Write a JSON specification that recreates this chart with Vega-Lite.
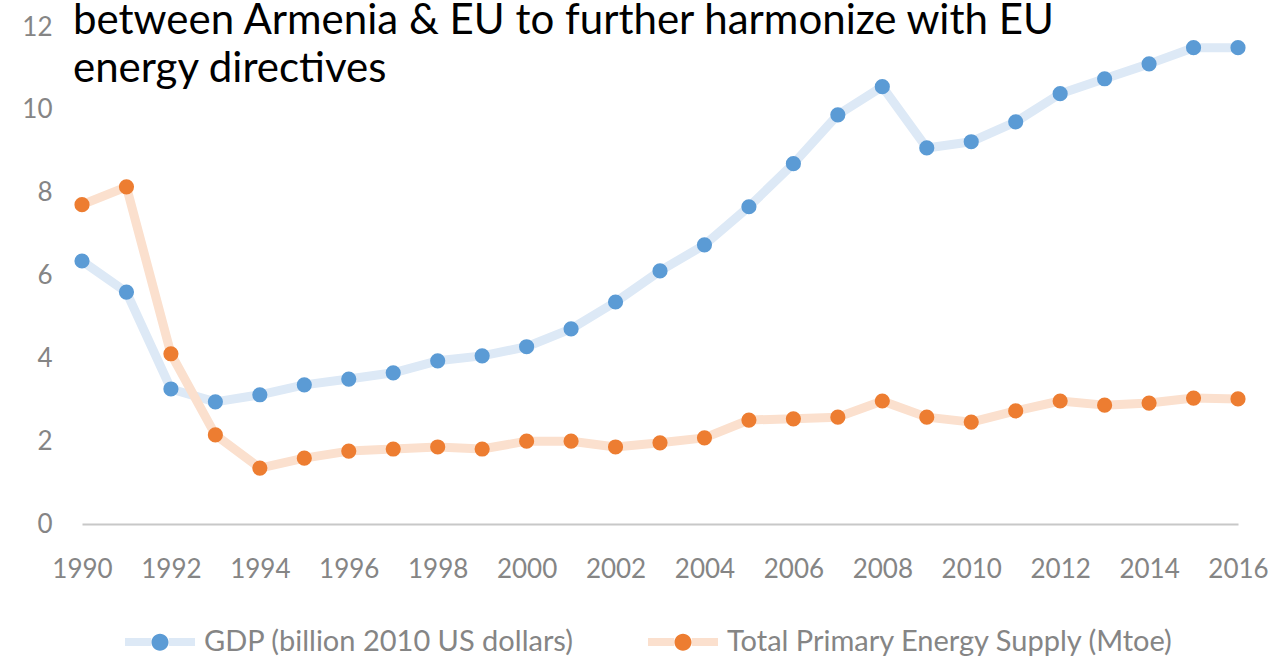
{
  "$schema": "https://vega.github.io/schema/vega-lite/v6.json",
  "autosize": {"type": "none"},
  "width": 1156,
  "height": 497,
  "padding": {"left": 82, "top": 27, "right": 38, "bottom": 132},
  "background": "white",
  "config": {"view": {"stroke": null}, "font": "Lato"},
  "title": {
    "text": ["between Armenia & EU to further harmonize with EU", "energy directives"],
    "anchor": "start", "frame": "group", "orient": "top",
    "font": "Lato", "fontSize": 42, "fontWeight": "normal", "color": "#000000",
    "lineHeight": 48, "baseline": "alphabetic", "offset": 0, "dx": -9, "dy": 110
  },
  "data": {"values": [
    {"year": 1990, "series": "GDP (billion 2010 US dollars)", "value": 6.35},
    {"year": 1991, "series": "GDP (billion 2010 US dollars)", "value": 5.6},
    {"year": 1992, "series": "GDP (billion 2010 US dollars)", "value": 3.26},
    {"year": 1993, "series": "GDP (billion 2010 US dollars)", "value": 2.95},
    {"year": 1994, "series": "GDP (billion 2010 US dollars)", "value": 3.12},
    {"year": 1995, "series": "GDP (billion 2010 US dollars)", "value": 3.36},
    {"year": 1996, "series": "GDP (billion 2010 US dollars)", "value": 3.5},
    {"year": 1997, "series": "GDP (billion 2010 US dollars)", "value": 3.65},
    {"year": 1998, "series": "GDP (billion 2010 US dollars)", "value": 3.94},
    {"year": 1999, "series": "GDP (billion 2010 US dollars)", "value": 4.06},
    {"year": 2000, "series": "GDP (billion 2010 US dollars)", "value": 4.28},
    {"year": 2001, "series": "GDP (billion 2010 US dollars)", "value": 4.71},
    {"year": 2002, "series": "GDP (billion 2010 US dollars)", "value": 5.36},
    {"year": 2003, "series": "GDP (billion 2010 US dollars)", "value": 6.11},
    {"year": 2004, "series": "GDP (billion 2010 US dollars)", "value": 6.74},
    {"year": 2005, "series": "GDP (billion 2010 US dollars)", "value": 7.66},
    {"year": 2006, "series": "GDP (billion 2010 US dollars)", "value": 8.7},
    {"year": 2007, "series": "GDP (billion 2010 US dollars)", "value": 9.88},
    {"year": 2008, "series": "GDP (billion 2010 US dollars)", "value": 10.56},
    {"year": 2009, "series": "GDP (billion 2010 US dollars)", "value": 9.08},
    {"year": 2010, "series": "GDP (billion 2010 US dollars)", "value": 9.23},
    {"year": 2011, "series": "GDP (billion 2010 US dollars)", "value": 9.71},
    {"year": 2012, "series": "GDP (billion 2010 US dollars)", "value": 10.39},
    {"year": 2013, "series": "GDP (billion 2010 US dollars)", "value": 10.75},
    {"year": 2014, "series": "GDP (billion 2010 US dollars)", "value": 11.11},
    {"year": 2015, "series": "GDP (billion 2010 US dollars)", "value": 11.5},
    {"year": 2016, "series": "GDP (billion 2010 US dollars)", "value": 11.5},
    {"year": 1990, "series": "Total Primary Energy Supply (Mtoe)", "value": 7.71},
    {"year": 1991, "series": "Total Primary Energy Supply (Mtoe)", "value": 8.14},
    {"year": 1992, "series": "Total Primary Energy Supply (Mtoe)", "value": 4.11},
    {"year": 1993, "series": "Total Primary Energy Supply (Mtoe)", "value": 2.15},
    {"year": 1994, "series": "Total Primary Energy Supply (Mtoe)", "value": 1.35},
    {"year": 1995, "series": "Total Primary Energy Supply (Mtoe)", "value": 1.59},
    {"year": 1996, "series": "Total Primary Energy Supply (Mtoe)", "value": 1.76},
    {"year": 1997, "series": "Total Primary Energy Supply (Mtoe)", "value": 1.81},
    {"year": 1998, "series": "Total Primary Energy Supply (Mtoe)", "value": 1.86},
    {"year": 1999, "series": "Total Primary Energy Supply (Mtoe)", "value": 1.81},
    {"year": 2000, "series": "Total Primary Energy Supply (Mtoe)", "value": 2.0},
    {"year": 2001, "series": "Total Primary Energy Supply (Mtoe)", "value": 2.0},
    {"year": 2002, "series": "Total Primary Energy Supply (Mtoe)", "value": 1.86},
    {"year": 2003, "series": "Total Primary Energy Supply (Mtoe)", "value": 1.96},
    {"year": 2004, "series": "Total Primary Energy Supply (Mtoe)", "value": 2.08},
    {"year": 2005, "series": "Total Primary Energy Supply (Mtoe)", "value": 2.51},
    {"year": 2006, "series": "Total Primary Energy Supply (Mtoe)", "value": 2.54},
    {"year": 2007, "series": "Total Primary Energy Supply (Mtoe)", "value": 2.58},
    {"year": 2008, "series": "Total Primary Energy Supply (Mtoe)", "value": 2.97},
    {"year": 2009, "series": "Total Primary Energy Supply (Mtoe)", "value": 2.58},
    {"year": 2010, "series": "Total Primary Energy Supply (Mtoe)", "value": 2.46},
    {"year": 2011, "series": "Total Primary Energy Supply (Mtoe)", "value": 2.73},
    {"year": 2012, "series": "Total Primary Energy Supply (Mtoe)", "value": 2.97},
    {"year": 2013, "series": "Total Primary Energy Supply (Mtoe)", "value": 2.87},
    {"year": 2014, "series": "Total Primary Energy Supply (Mtoe)", "value": 2.92},
    {"year": 2015, "series": "Total Primary Energy Supply (Mtoe)", "value": 3.04},
    {"year": 2016, "series": "Total Primary Energy Supply (Mtoe)", "value": 3.02}
  ]},
  "encoding": {
    "x": {
      "field": "year", "type": "quantitative",
      "scale": {"domain": [1990, 2016], "nice": false, "zero": false},
      "axis": {
        "title": null, "values": [1990, 1992, 1994, 1996, 1998, 2000, 2002, 2004, 2006, 2008, 2010, 2012, 2014, 2016],
        "format": "d", "grid": false, "ticks": false, "domain": true,
        "domainColor": "#C8C8C8", "domainWidth": 2,
        "labelFont": "Lato", "labelFontSize": 26, "labelColor": "#858585", "labelPadding": 32,
        "labelFlush": false, "labelOverlap": false
      }
    },
    "y": {
      "field": "value", "type": "quantitative",
      "scale": {"domain": [0, 12], "nice": false},
      "axis": {
        "title": null, "values": [0, 2, 4, 6, 8, 10, 12], "grid": false, "ticks": false, "domain": false,
        "labelFont": "Lato", "labelFontSize": 26, "labelColor": "#858585", "labelPadding": 30,
        "labelFlush": false, "labelOverlap": false
      }
    }
  },
  "layer": [
    {
      "mark": {"type": "line", "strokeWidth": 9, "strokeJoin": "round", "strokeCap": "butt"},
      "encoding": {
        "stroke": {
          "field": "series", "type": "nominal",
          "scale": {"domain": ["GDP (billion 2010 US dollars)", "Total Primary Energy Supply (Mtoe)"], "range": ["#DDE9F6", "#FBE0CE"]},
          "legend": {
            "orient": "none", "legendX": 39, "legendY": 576, "direction": "horizontal",
            "title": null, "padding": 0,
            "symbolType": "M-1,0 H-0.25 M0.25,0 H1", "symbolSize": 4900, "symbolStrokeWidth": 8,
            "labelFont": "Lato", "labelFontSize": 29, "labelColor": "transparent", "labelOffset": 5,
            "labelLimit": 800, "columnPadding": 58
          }
        }
      }
    },
    {
      "mark": {"type": "point", "shape": "circle", "filled": true, "size": 230, "opacity": 1, "strokeWidth": 0},
      "encoding": {
        "fill": {
          "field": "series", "type": "nominal",
          "scale": {"range": ["#5B9BD5", "#ED7D31"]},
          "legend": {
            "orient": "none", "legendX": 39, "legendY": 576, "direction": "horizontal",
            "title": null, "padding": 0,
            "symbolType": "M-1,0 L-1,0 M1,0 L1,0 M0.243,0 A0.243,0.243 0 1,1 -0.243,0 A0.243,0.243 0 1,1 0.243,0 Z",
            "symbolSize": 4900, "symbolStrokeWidth": 8, "symbolStrokeColor": "transparent", "symbolOpacity": 1,
            "labelFont": "Lato", "labelFontSize": 29, "labelColor": "#858585", "labelOffset": 5,
            "labelLimit": 800, "columnPadding": 58
          }
        }
      }
    }
  ]
}
